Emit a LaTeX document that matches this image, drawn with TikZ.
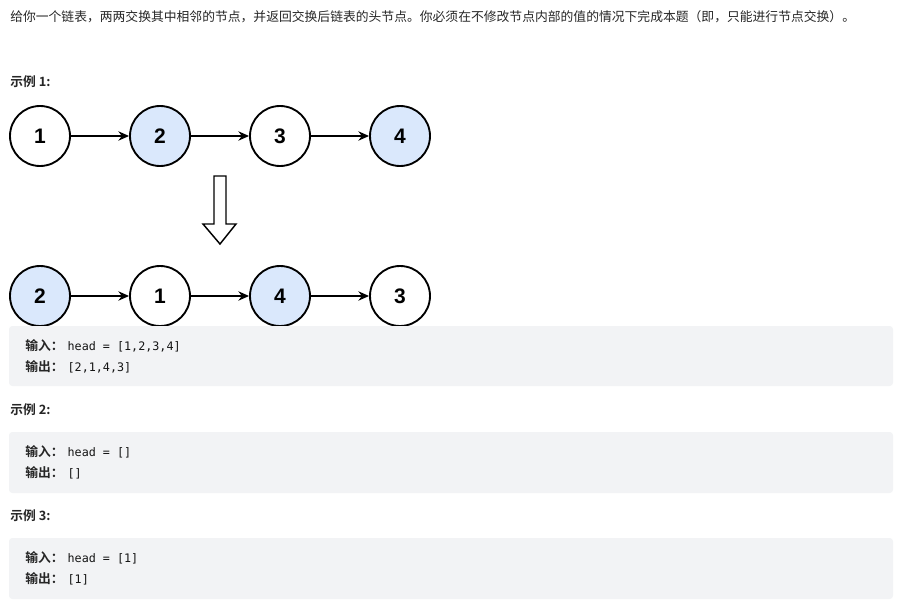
\documentclass[tikz,border=0pt]{standalone}
\usepackage{fontspec}
\setmainfont{Liberation Sans}
\newfontfamily\cjk{Noto Sans CJK SC}[BoldFont={Noto Sans CJK SC Bold}]
\newfontfamily\code{DejaVu Sans Mono}
\usepackage{xcolor}
\usepackage{tikz}
\usetikzlibrary{arrows.meta,positioning}
\definecolor{nodeblue}{HTML}{DAE8FC}
\definecolor{boxgray}{HTML}{F2F3F5}
\definecolor{txtgray}{HTML}{262626}
\definecolor{codeink}{HTML}{141414}
\newcommand{\cnsize}{\fontsize{9.6pt}{12pt}\selectfont}
\newcommand{\codesize}{\fontsize{8.8pt}{11pt}\selectfont}

\begin{document}
\begin{tikzpicture}[x=0.75pt,y=-0.75pt,
    listnode/.style={circle, draw, line width=1.4pt, minimum size=45pt, inner sep=0pt, font=\fontsize{15.75pt}{18pt}\selectfont\bfseries},
    nextptr/.style={line width=1.1pt, -{Stealth[length=8pt,width=7pt]}},
    textline/.style={anchor=west, inner sep=0pt, text=txtgray},
    codebox/.style={fill=boxgray, rounded corners=2.5pt}]
    \useasboundingbox[fill=white] (0,0) rectangle (904,607);
            \node[textline, font=\cjk\cnsize] (intro) at (10,17) {给你一个链表，两两交换其中相邻的节点，并返回交换后链表的头节点。你必须在不修改节点内部的值的情况下完成本题（即，只能进行节点交换）。};
            \node[textline, font=\cjk\cnsize\bfseries] (ex1) at (10,82) {示例 1:};
            % before the swap
            \node[listnode] at (40,136) (a1) {1};
            \node[listnode, fill=nodeblue] at (160,136) (a2) {2};
            \node[listnode] at (280,136) (a3) {3};
            \node[listnode, fill=nodeblue] at (400,136) (a4) {4};
            \draw[nextptr] (a1) -- (a2);
            \draw[nextptr] (a2) -- (a3);
            \draw[nextptr] (a3) -- (a4);
            % hollow arrow
            \coordinate (swap) at (220,176);
            \draw[line width=1.1pt, line join=miter] (swap) ++(-6,0) -- ++(12,0) -- ++(0,48) -- ++(10,0) -- (220,244) -- (203,224) -- ++(11,0) -- cycle;
            % after the swap
            \node[listnode, fill=nodeblue] at (40,296) (b1) {2};
            \node[listnode] at (160,296) (b2) {1};
            \node[listnode, fill=nodeblue] at (280,296) (b3) {4};
            \node[listnode] at (400,296) (b4) {3};
            \draw[nextptr] (b1) -- (b2);
            \draw[nextptr] (b2) -- (b3);
            \draw[nextptr] (b3) -- (b4);
            % example boxes
            \fill[codebox] (9,326) rectangle (893,386);
            \node[textline] (in1) at (25,346) {{\cjk\cnsize\bfseries 输入：}\hspace{3pt}{\code\codesize\color{codeink}head = [1,2,3,4]}};
            \node[textline] (out1) at (25,367) {{\cjk\cnsize\bfseries 输出：}\hspace{3pt}{\code\codesize\color{codeink}[2,1,4,3]}};
            \node[textline, font=\cjk\cnsize\bfseries] (ex2) at (10,410) {示例 2:};
            \fill[codebox] (9,432) rectangle (893,493);
            \node[textline] (in2) at (25,452) {{\cjk\cnsize\bfseries 输入：}\hspace{3pt}{\code\codesize\color{codeink}head = []}};
            \node[textline] (out2) at (25,473) {{\cjk\cnsize\bfseries 输出：}\hspace{3pt}{\code\codesize\color{codeink}[]}};
            \node[textline, font=\cjk\cnsize\bfseries] (ex3) at (10,516) {示例 3:};
            \fill[codebox] (9,538) rectangle (893,599);
            \node[textline] (in3) at (25,558) {{\cjk\cnsize\bfseries 输入：}\hspace{3pt}{\code\codesize\color{codeink}head = [1]}};
            \node[textline] (out3) at (25,579) {{\cjk\cnsize\bfseries 输出：}\hspace{3pt}{\code\codesize\color{codeink}[1]}};
        \end{tikzpicture}
\end{document}
